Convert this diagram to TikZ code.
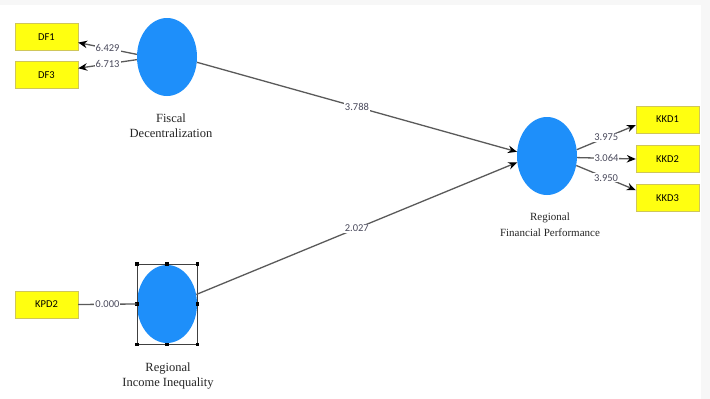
\documentclass[tikz,border=0pt]{standalone}
\usepackage{fontspec}
\setmainfont{Liberation Serif}
\newfontfamily\boxfont{Carlito}
\usetikzlibrary{arrows.meta,shapes.geometric}
\definecolor{lvblue}{HTML}{1E8FFA}
\definecolor{mvyellow}{HTML}{FFFF10}
\definecolor{mvborder}{HTML}{CFC65A}
\definecolor{pathgray}{HTML}{5A5A5A}
\definecolor{coefgray}{HTML}{4A4A5C}

\begin{document}
\begin{tikzpicture}[x=1pt,y=-1pt,
  latent/.style={ellipse,fill=lvblue,minimum width=60pt,minimum height=78pt,inner sep=0pt},
  indicator/.style={rectangle,draw=mvborder,fill=mvyellow,minimum width=63pt,minimum height=27pt,inner sep=0pt,font=\boxfont\fontsize{10.5}{12}\selectfont},
  caption/.style={align=center,font=\fontsize{12.5}{15}\selectfont,text=black!85},
  coef/.style={fill=white,inner sep=1pt,text=coefgray,font=\boxfont\fontsize{10.5}{11}\selectfont},
  path/.style={draw=pathgray,line width=1.3pt,-{Stealth[length=9pt,width=7.5pt,color=black]}},
  plain/.style={draw=pathgray,line width=1.3pt}]
\useasboundingbox (0,0) rectangle (710,399);
\fill[black!3] (0,0) rectangle (710,399);
\fill[white] (0,5) rectangle (701,399);

\node[latent] at (167,57) (fd) {};
\node[latent] at (167,304) (rii) {};
\node[latent] at (547,156) (rfp) {};

\node[caption] at (171,126) (fdtxt) {Fiscal\\Decentralization};
\node[caption] at (168,376) (riitxt) {Regional\\Income Inequality};
\node[caption,font=\fontsize{11}{16}\selectfont] at (550,225) (rfptxt) {Regional\\Financial Performance};

\node[indicator] at (46.5,37) (df1) {DF1};
\node[indicator] at (46.5,75) (df3) {DF3};
\node[indicator] at (46.5,304.5) (kpd2) {KPD2};
\node[indicator] at (667.5,119.5) (kkd1) {KKD1};
\node[indicator] at (667.5,159) (kkd2) {KKD2};
\node[indicator] at (667.5,198) (kkd3) {KKD3};

% selection frame round the inequality construct
\node[draw=black!75,line width=0.6pt,minimum width=60pt,minimum height=80pt] at (167,304) (sel) {};
\foreach \a in {north west,north,north east,east,south east,south,south west,west}
  \fill (sel.\a) +(-1.8,-1.8) rectangle +(1.8,1.8);

\draw[path] (fd.175) -- node[coef] {6.429} (df1.-10);
\draw[path] (fd.185) -- node[coef] {6.713} (df3.12);
\draw[plain] (kpd2.east) -- node[coef] {0.000} (sel.west);

\draw[path] (fd.-10) -- node[coef,pos=0.5] {3.788} (rfp.172);
\draw[path] (rii.18) -- node[coef,pos=0.5] {2.027} (rfp.192);

\draw[path] (rfp.12) -- node[coef] {3.975} (kkd1.190);
\draw[path] (rfp.-3) -- node[coef] {3.064} (kkd2.west);
\draw[path] (rfp.-18) -- node[coef] {3.950} (kkd3.166);
\end{tikzpicture}
\end{document}
